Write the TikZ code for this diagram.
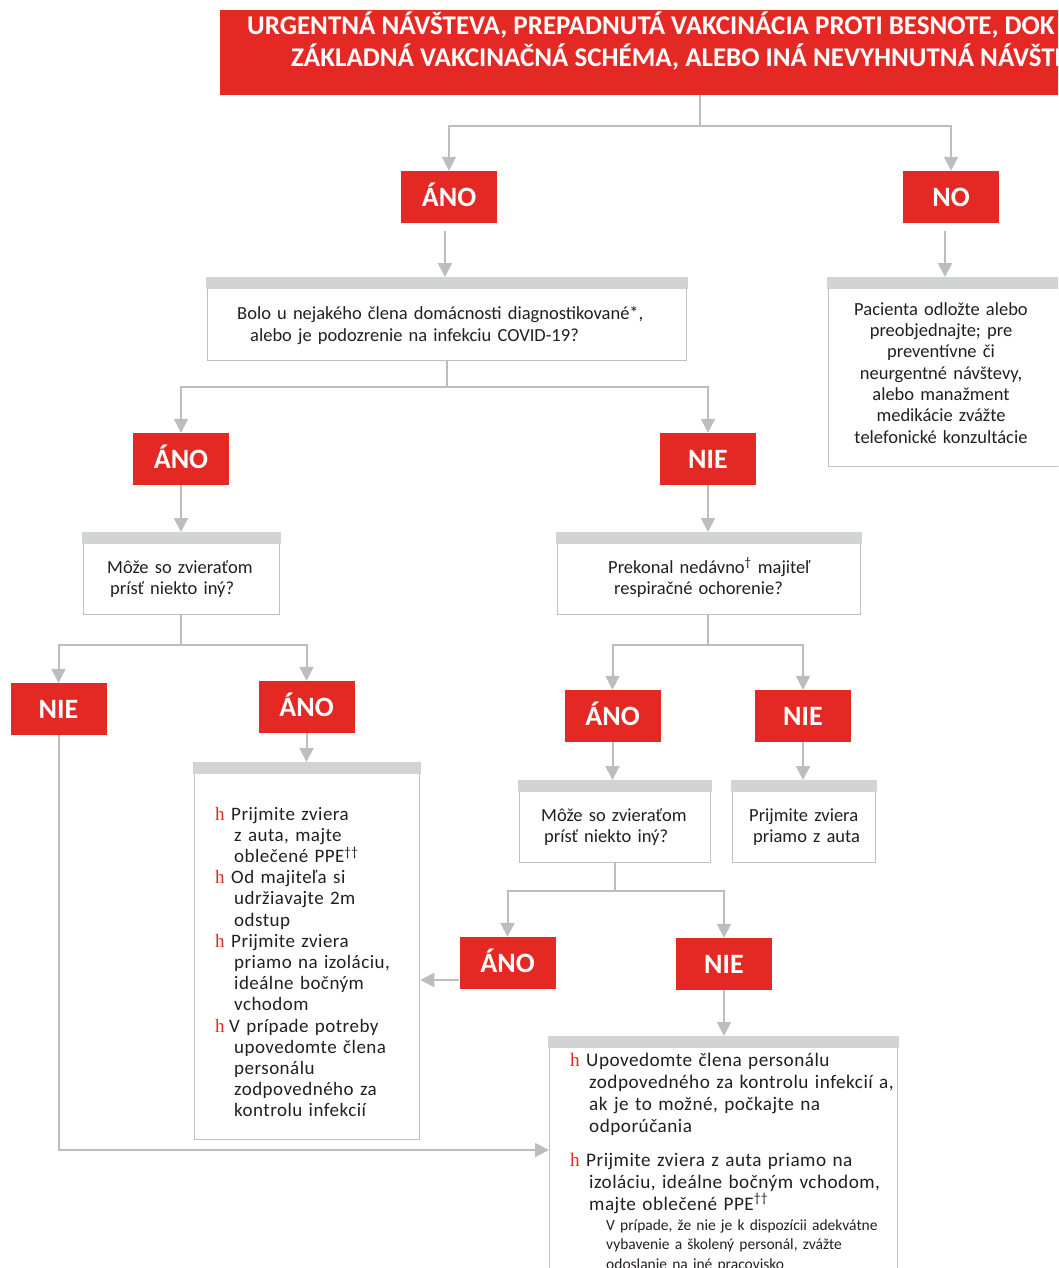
\documentclass[tikz,border=0pt]{standalone}
\usepackage{fontspec}
\setmainfont{Carlito}
\newfontfamily\spfont{Carlito}[LetterSpace=2.5]
\newfontfamily\hfont{Liberation Serif}
\usetikzlibrary{arrows.meta}
\definecolor{cred}{RGB}{228,41,37}
\definecolor{chdr}{RGB}{209,211,212}
\definecolor{cbord}{RGB}{190,192,194}
\definecolor{cline}{RGB}{187,189,192}
\definecolor{ctext}{RGB}{35,31,32}
\newcommand\hbul[1][16pt]{\makebox[#1][l]{\hfont\color{cred}h}}
\newcommand\ind{\hspace*{19pt}}
\newcommand\qb[5]{\node[qbox,minimum width=#4pt,minimum height=#5pt] (#1) at (#2,#3) {};
  \fill[chdr] ([xshift=-0.65pt]#1.north west) rectangle ([xshift=0.65pt,yshift=-12pt]#1.north east);}
\begin{document}
\begin{tikzpicture}[x=1pt,y=-1pt,
  lab/.style={fill=cred,text=white,font=\fontsize{28}{32}\selectfont\bfseries,
    minimum width=96pt,minimum height=52pt,inner sep=0pt,text height=18pt,text depth=0pt},
  qbox/.style={draw=cbord,line width=1.3pt,fill=white,anchor=north west,inner sep=0pt},
  conn/.style={draw=cline,line width=2pt},
  arr/.style={conn,-{Triangle[width=14pt,length=14pt]}},
  txt/.style={text=ctext,inner sep=0pt,anchor=base west,align=left,
    font=\fontsize{18.5}{22}\selectfont},
  btxt/.style={text=white,inner sep=0pt,anchor=base west,
    font=\fontsize{27}{32}\selectfont\bfseries},
]
\useasboundingbox (0,0) rectangle (1058,1268);
\clip (0,0) rectangle (1058,1268);

% banner
\node[fill=cred,anchor=north west,minimum width=880pt,minimum height=85pt,inner sep=0pt] (ban) at (220,10) {};
\node[btxt] (bt1) at (247,35) {URGENTNÁ NÁVŠTEVA, PREPADNUTÁ VAKCINÁCIA PROTI BESNOTE, DOK};
\node[btxt] (bt2) at (291,67) {ZÁKLADNÁ VAKCINAČNÁ SCHÉMA, ALEBO INÁ NEVYHNUTNÁ NÁVŠTE};

% labels
\node[lab] (yes1) at (449,197) {ÁNO};
\node[lab] (no1) at (951,197) {NO};
\node[lab] (yes2) at (181,459) {ÁNO};
\node[lab] (nie2) at (708,459) {NIE};
\node[lab] (nie3) at (58.5,709) {NIE};
\node[lab] (yes3) at (306.5,707) {ÁNO};
\node[lab] (yes4) at (612.5,716) {ÁNO};
\node[lab] (nie4) at (803,716) {NIE};
\node[lab] (yes5) at (507.5,963) {ÁNO};
\node[lab] (nie5) at (724,964) {NIE};

% boxes
\qb{q1}{207}{277}{479}{83}
\qb{rbox}{828}{277}{260}{189}
\qb{q2}{83}{532}{196}{82}
\qb{q3}{557}{532}{303}{82}
\qb{abox}{194}{762}{225}{377}
\qb{q4}{519}{780}{191}{82}
\qb{pbox}{732}{780}{143}{82}
\qb{bbox}{549}{1036}{348}{260}

% texts
\node[txt,text width=460pt] (t1) at (237,319.5)
  {Bolo u nejakého člena domácnosti diagnostikované*,\\\hspace*{13pt}alebo je podozrenie na infekciu COVID-19?};
\node[txt,anchor=base,align=center,text width=230pt,font=\fontsize{18.5}{21.35}\selectfont] (t2) at (941,315)
  {Pacienta odložte alebo\\preobjednajte; pre\\preventívne či\\neurgentné návštevy,\\alebo manažment\\medikácie zvážte\\telefonické konzultácie};
\node[txt,text width=180pt,font=\fontsize{18.5}{21.5}\selectfont] (t3) at (107,573)
  {Môže so zvieraťom\\\hspace*{3pt}prísť niekto iný?};
\node[txt,text width=280pt,font=\fontsize{18.5}{21.5}\selectfont] (t4) at (608,573)
  {Prekonal nedávno\textsuperscript{†} majiteľ\\\hspace*{6pt}respiračné ochorenie?};
\node[txt,text width=180pt,font=\fontsize{18.5}{21.5}\selectfont] (t5) at (541,821)
  {Môže so zvieraťom\\\hspace*{3pt}prísť niekto iný?};
\node[txt,text width=130pt,font=\fontsize{18.5}{21.5}\selectfont] (t6) at (749,821)
  {Prijmite zviera\\\hspace*{4pt}priamo z auta};
\node[txt,text width=205pt,font=\spfont\fontsize{19}{21.2}\selectfont] (t7) at (215,820)
  {\hbul Prijmite zviera\\\ind z auta, majte\\\ind oblečené PPE\textsuperscript{††}\\
   \hbul Od majiteľa si\\\ind udržiavajte 2m\\\ind odstup\\
   \hbul Prijmite zviera\\\ind priamo na izoláciu,\\\ind ideálne bočným\\\ind vchodom\\
   \hbul[14pt]V prípade potreby\\\ind upovedomte člena\\\ind personálu\\\ind zodpovedného za\\\ind kontrolu infekcií};
\node[txt,text width=330pt,font=\spfont\fontsize{19.2}{22}\selectfont] (t8) at (570,1066)
  {\hbul Upovedomte člena personálu\\\ind zodpovedného za kontrolu infekcií a,\\\ind ak je to možné, počkajte na\\\ind odporúčania};
\node[txt,text width=330pt,font=\spfont\fontsize{19.2}{22}\selectfont] (t9) at (570,1166)
  {\hbul Prijmite zviera z auta priamo na\\\ind izoláciu, ideálne bočným vchodom,\\\ind majte oblečené PPE\textsuperscript{††}};
\node[txt,text width=288pt,font=\fontsize{15.5}{19.5}\selectfont] (t10) at (606,1230)
  {V prípade, že nie je k dispozícii adekvátne\\vybavenie a školený personál, zvážte\\odoslanie na iné pracovisko};

% connectors
\coordinate (j0) at (700,126);
\draw[conn] (ban.south -| j0) -- (j0);
\draw[arr] (j0) -| (yes1.north);
\draw[arr] (j0) -| (no1.north);
\draw[arr] ([xshift=-4pt,yshift=-8pt]yes1.south) -- ([xshift=-4pt]yes1.south |- q1.north);
\draw[arr] ([xshift=-6pt,yshift=-8pt]no1.south) -- ([xshift=-6pt]no1.south |- rbox.north);

\coordinate (j1) at (447,387);
\draw[conn] (q1.south -| j1) -- (j1);
\draw[arr] (j1) -| (yes2.north);
\draw[arr] (j1) -| (nie2.north);
\draw[arr] (yes2.south) -- (yes2.south |- q2.north);
\draw[arr] (nie2.south) -- (nie2.south |- q3.north);

\coordinate (j2) at (181,645);
\draw[conn] (q2.south -| j2) -- (j2);
\draw[arr] (j2) -| (nie3.north);
\draw[arr] (j2) -| (yes3.north);
\coordinate (j3) at (708,645);
\draw[conn] (q3.south -| j3) -- (j3);
\draw[arr] (j3) -| (yes4.north);
\draw[arr] (j3) -| (nie4.north);

\draw[arr] (yes3.south) -- (yes3.south |- abox.north);
\coordinate (lv) at (0,1150);
\draw[arr] (nie3.south) |- (bbox.west |- lv);
\draw[arr] (yes4.south) -- (yes4.south |- q4.north);
\draw[arr] (nie4.south) -- (nie4.south |- pbox.north);

\coordinate (j4) at (615,891);
\draw[conn] (q4.south -| j4) -- (j4);
\draw[arr] (j4) -| (yes5.north);
\draw[arr] (j4) -| (nie5.north);
\draw[arr] ([yshift=-17pt]yes5.west) -- ([yshift=-17pt]yes5.west -| abox.east);
\draw[arr] (nie5.south) -- (nie5.south |- bbox.north);
\end{tikzpicture}
\end{document}
